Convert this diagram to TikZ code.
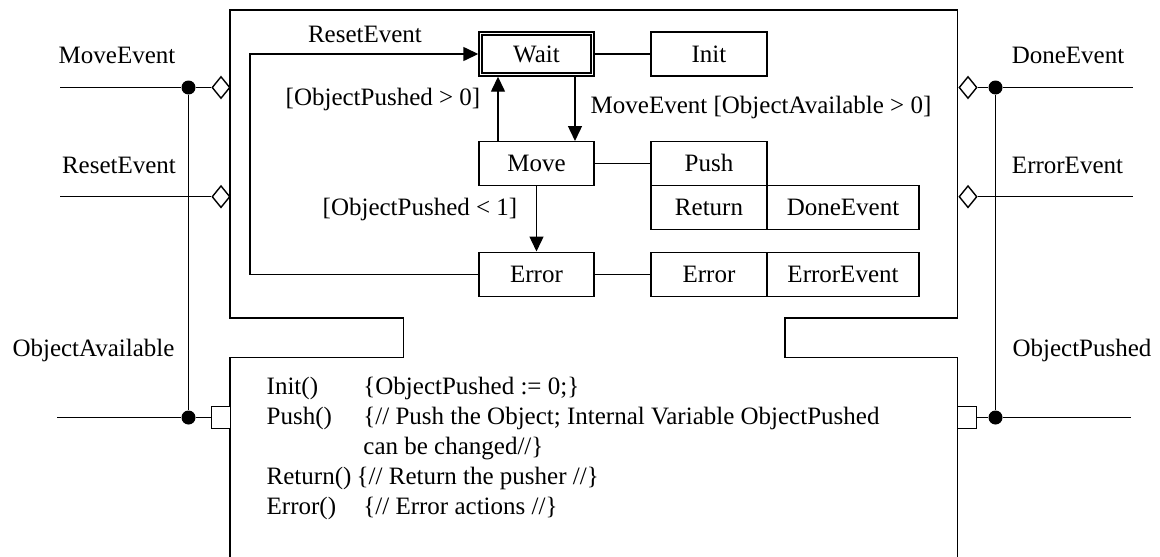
\documentclass[tikz,border=0pt]{standalone}
\usepackage{fontspec}
\setmainfont{Liberation Serif}
\usetikzlibrary{arrows.meta,shapes.geometric}
\begin{document}
\begin{tikzpicture}[x=1pt,y=-1pt,
  line width=1.4pt,
  every node/.style={font=\fontsize{25}{30}\selectfont, inner sep=0pt},
  boxlabel/.style={draw, minimum height=44pt, text height=16.5pt, text depth=0pt},
  state/.style={boxlabel, minimum width=115pt},
  act/.style={boxlabel, minimum width=116pt},
  evt/.style={boxlabel, minimum width=152pt},
  evport/.style={draw, fill=white, diamond, minimum width=18pt, minimum height=22pt},
  varport/.style={draw, fill=white, rectangle, minimum width=19pt, minimum height=21.6pt},
  junction/.style={circle, fill=black, minimum size=14pt},
  arr/.style={-{Triangle[length=15pt,width=14pt]}}
]
\useasboundingbox (0,0) rectangle (1160,557);

% component outline with its neck
\draw (230,557) -- (230,357.5) -- (403.5,357.5) -- (403.5,318) -- (230,318)
  -- (230,10) -- (957.5,10) -- (957.5,318) -- (785,318) -- (785,357.5)
  -- (957.5,357.5) -- (957.5,557);

% states and actions
\node[state] (wait) at (536.5,54) {Wait};
\draw ([shift={(3.7,3.7)}]wait.north west) rectangle ([shift={(-3.7,-3.7)}]wait.south east);
\node[act] (init) at (709,54) {Init};
\node[state] (move) at (536.5,163.7) {Move};
\node[act] (push) at (709,163.7) {Push};
\node[act] (ret) at (709,207.7) {Return};
\node[evt] (done) at (843,207.7) {DoneEvent};
\node[state] (err) at (536.5,274.2) {Error};
\node[act] (erract) at (709,274.2) {Error};
\node[evt] (errevt) at (843,274.2) {ErrorEvent};

\draw (wait) -- (init);
\draw (move) -- (push);
\draw (err) -- (erract);

% transitions
\coordinate (rcorner) at (250,54);
\draw[arr] (err.west) -| (rcorner) -- (wait.west);
\draw[arr] ([xshift=38.5pt]wait.south) -- ([xshift=38.5pt]move.north);
\draw[arr] ([xshift=-38.5pt]move.north) -- ([xshift=-38.5pt]wait.south);
\draw[arr] (move.south) -- (err.north);

\node[anchor=base] (tReset) at (365,42) {ResetEvent};
\node[anchor=base east] (tBack) at (481,105) {[ObjectPushed > 0]};
\node[anchor=base west] (tMove) at (590,113) {MoveEvent [ObjectAvailable > 0]};
\node[anchor=base east] (tFail) at (518,215.5) {[ObjectPushed < 1]};

% input ports
\node[evport] (pMove) at (221,87.5) {};
\node[evport] (pReset) at (221,196.7) {};
\node[varport] (pAvail) at (221.2,417.5) {};
\node[junction] (jMove) at (188.5,87.5) {};
\node[junction] (jAvail) at (188.5,417.5) {};
\coordinate (eMove) at (60,87.5);
\coordinate (eReset) at (60,196.7);
\coordinate (eAvail) at (57,417.5);
\draw (eMove) -- (jMove) -- (pMove);
\draw (eReset) -- (pReset);
\draw (eAvail) -- (jAvail) -- (pAvail);
\draw (jMove) -- (jAvail);
\node[anchor=base] (lMove) at (117,63) {MoveEvent};
\node[anchor=base] (lReset) at (119,173.3) {ResetEvent};
\node[anchor=base] (lAvail) at (93.5,356.5) {ObjectAvailable};

% output ports
\node[evport] (pDone) at (968,87.5) {};
\node[evport] (pErr) at (968,196.7) {};
\node[varport] (pPushed) at (967.2,417.5) {};
\node[junction] (jDone) at (995.5,87.5) {};
\node[junction] (jPushed) at (995.5,417.5) {};
\coordinate (eDone) at (1132.5,87.5);
\coordinate (eErr) at (1132.5,196.7);
\coordinate (ePushed) at (1131,417.5);
\draw (pDone) -- (jDone) -- (eDone);
\draw (pErr) -- (eErr);
\draw (pPushed) -- (jPushed) -- (ePushed);
\draw (jDone) -- (jPushed);
\node[anchor=base] (lDone) at (1068,63) {DoneEvent};
\node[anchor=base] (lErr) at (1067.5,173.3) {ErrorEvent};
\node[anchor=base] (lPushed) at (1082,356.5) {ObjectPushed};

% action definitions
\node[anchor=base west] (dInitA) at (266,394) {Init()};
\node[anchor=base west] (dInitB) at (362.7,394) {\{ObjectPushed := 0;\}};
\node[anchor=base west] (dPushA) at (266,424) {Push()};
\node[anchor=base west] (dPushB) at (362.7,424) {\{// Push the Object; Internal Variable ObjectPushed};
\node[anchor=base west] (dPushC) at (362.7,454) {can be changed//\}};
\node[anchor=base west] (dRetA) at (266,484) {Return()};
\node[anchor=base west] (dRetB) at (356,484) {\{// Return the pusher //\}};
\node[anchor=base west] (dErrA) at (266,514) {Error()};
\node[anchor=base west] (dErrB) at (362.7,514) {\{// Error actions //\}};
\end{tikzpicture}
\end{document}
